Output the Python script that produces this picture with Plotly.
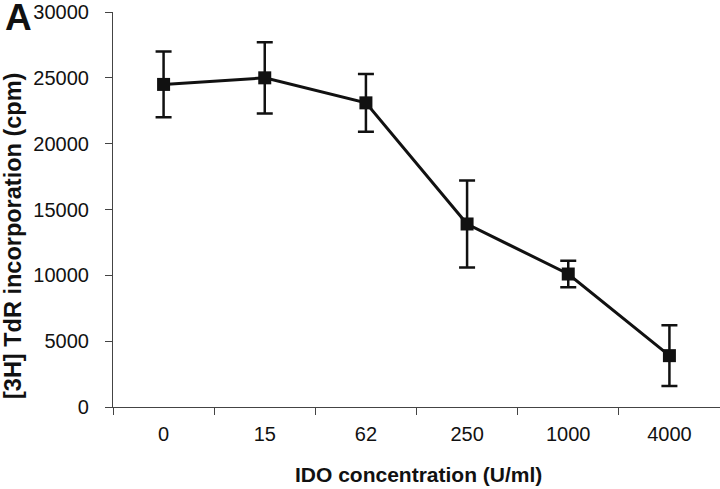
import plotly.graph_objects as go

categories = ["0", "15", "62", "250", "1000", "4000"]
tdr_cpm = [24500, 25000, 23100, 13900, 10100, 3900]
tdr_err = [2500, 2700, 2200, 3300, 1000, 2300]
y_ticks = [0, 5000, 10000, 15000, 20000, 25000, 30000]

FONT = "Arial, Liberation Sans, Helvetica, sans-serif"

L, R, T, B = 113, 0, 12, 82
W, H = 720, 489
pw, ph = W - L - R, H - T - B

def px(xpix):
    return (xpix - L) / pw

def py(ypix):
    return (H - B - ypix) / ph

fig = go.Figure()
fig.add_trace(go.Scatter(
    x=categories, y=tdr_cpm,
    mode="lines+markers",
    line=dict(color="#111111", width=3),
    marker=dict(symbol="square", size=13, color="#111111"),
    error_y=dict(type="data", array=tdr_err, visible=True,
                 color="#111111", thickness=2.5, width=8),
    showlegend=False,
))

fig.update_layout(
    width=W, height=H,
    margin=dict(l=L, r=R, t=T, b=B, autoexpand=False),
    paper_bgcolor="white", plot_bgcolor="white",
    font=dict(family=FONT, color="#111111", size=20),
    xaxis=dict(
        type="category", range=[-0.5, 5.5], automargin=False,
        showline=True, linecolor="#444444", linewidth=1.2,
        ticks="outside", tickson="boundaries", ticklen=7, tickcolor="#444444",
        showgrid=False, zeroline=False,
        tickfont=dict(size=20, family=FONT, color="#111111"),
        ticklabelstandoff=9,
    ),
    yaxis=dict(
        range=[0, 30000], tickvals=y_ticks, tickformat="d", automargin=False,
        showline=True, linecolor="#444444", linewidth=1.2,
        ticks="outside", ticklen=7, tickcolor="#444444",
        showgrid=False, zeroline=False,
        tickfont=dict(size=20, family=FONT, color="#111111"),
        ticklabelstandoff=12,
    ),
    annotations=[
        dict(text="<b>IDO concentration (U/ml)</b>", x=px(418), y=py(474),
             xref="paper", yref="paper", xanchor="center", yanchor="middle",
             showarrow=False, font=dict(size=21, family=FONT, color="#111111")),
        dict(text="<b>[3H] TdR incorporation (cpm)</b>", textangle=-90,
             x=px(13), y=py(236), xref="paper", yref="paper",
             xanchor="center", yanchor="middle",
             showarrow=False, font=dict(size=23.5, family=FONT, color="#111111")),
        dict(text="<b>A</b>", x=px(18), y=py(18), xref="paper", yref="paper",
             xanchor="center", yanchor="middle",
             showarrow=False, font=dict(size=37, family=FONT, color="#111111")),
    ],
)

fig.write_html("out.html", config={"displayModeBar": False},
               post_script="document.body.style.margin='0px';document.body.style.overflow='hidden';")
